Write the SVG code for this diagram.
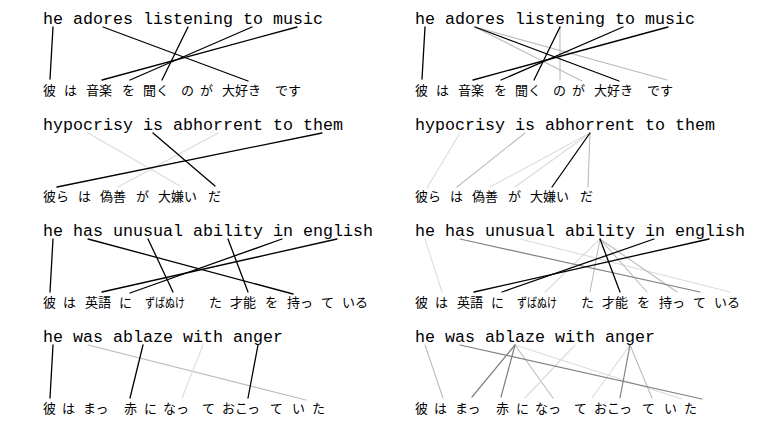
<svg xmlns="http://www.w3.org/2000/svg" width="761" height="432" viewBox="0 0 761 432">
<style>
.en{font-family:"Liberation Mono","Courier New",monospace;font-size:16.67px;fill:#000}
.ja{font-family:"Noto Sans CJK JP","Noto Sans CJK SC",sans-serif;font-size:13px;fill:#000}
.c line{fill:none;stroke-linecap:round}
.k{stroke:#000;stroke-width:1.3}
.g1{stroke:#808080;stroke-width:1.2}
.g2{stroke:#bcbcbc;stroke-width:1.1}
.g3{stroke:#dcdcdc;stroke-width:1.1}
</style>
<rect width="761" height="432" fill="#fff"/>

<g id="connectors" class="c">
<!-- left row 1 -->
<line class="k" x1="53" y1="27" x2="50" y2="79"/>
<line class="k" x1="103" y1="27" x2="248" y2="81"/>
<line class="k" x1="188" y1="27" x2="162" y2="80"/>
<line class="k" x1="252" y1="27" x2="130" y2="80"/>
<line class="k" x1="297" y1="27" x2="102" y2="80"/>
<!-- right row 1 -->
<line class="g2" x1="475" y1="27" x2="582" y2="81"/>
<line class="g2" x1="475" y1="27" x2="667" y2="80"/>
<line class="g2" x1="560" y1="27" x2="560" y2="80"/>
<line class="k" x1="425" y1="27" x2="422" y2="79"/>
<line class="k" x1="475" y1="27" x2="619" y2="81"/>
<line class="k" x1="560" y1="27" x2="534" y2="80"/>
<line class="k" x1="623" y1="27" x2="501" y2="80"/>
<line class="k" x1="668" y1="27" x2="473" y2="80"/>
<!-- left row 2 -->
<line class="g3" x1="88" y1="133" x2="180" y2="186"/>
<line class="g3" x1="218" y1="133" x2="118" y2="187"/>
<line class="k" x1="153" y1="133" x2="215" y2="186"/>
<line class="k" x1="322" y1="133" x2="57" y2="187"/>
<!-- right row 2 -->
<line class="g3" x1="460" y1="133" x2="427" y2="188"/>
<line class="g2" x1="525" y1="133" x2="457" y2="187"/>
<line class="g3" x1="590" y1="133" x2="490" y2="187"/>
<line class="g3" x1="590" y1="133" x2="515" y2="187"/>
<line class="g2" x1="590" y1="133" x2="588" y2="187"/>
<line class="k" x1="590" y1="133" x2="552" y2="187"/>
<!-- left row 3 -->
<line class="k" x1="53" y1="239" x2="50" y2="292"/>
<line class="k" x1="88" y1="239" x2="293" y2="294"/>
<line class="k" x1="148" y1="239" x2="173" y2="292"/>
<line class="k" x1="228" y1="239" x2="248" y2="292"/>
<line class="k" x1="282" y1="239" x2="130" y2="293"/>
<line class="k" x1="337" y1="239" x2="102" y2="292"/>
<!-- right row 3 -->
<line class="g3" x1="425" y1="239" x2="442" y2="292"/>
<line class="g3" x1="520" y1="239" x2="730" y2="292"/>
<line class="g3" x1="600" y1="239" x2="545" y2="292"/>
<line class="g2" x1="600" y1="239" x2="590" y2="292"/>
<line class="g2" x1="600" y1="239" x2="647" y2="292"/>
<line class="g2" x1="600" y1="239" x2="677" y2="292"/>
<line class="g1" x1="460" y1="239" x2="700" y2="292"/>
<line class="k" x1="600" y1="239" x2="620" y2="292"/>
<line class="k" x1="654" y1="239" x2="502" y2="292"/>
<line class="k" x1="709" y1="239" x2="474" y2="292"/>
<!-- left row 4 -->
<line class="g2" x1="88" y1="345" x2="306" y2="400"/>
<line class="g3" x1="203" y1="345" x2="182" y2="398"/>
<line class="k" x1="53" y1="345" x2="50" y2="398"/>
<line class="k" x1="143" y1="345" x2="130" y2="398"/>
<line class="k" x1="258" y1="345" x2="248" y2="398"/>
<!-- right row 4 -->
<line class="g2" x1="425" y1="345" x2="443" y2="398"/>
<line class="g3" x1="515" y1="345" x2="682" y2="399"/>
<line class="g2" x1="515" y1="345" x2="553" y2="398"/>
<line class="g3" x1="575" y1="345" x2="525" y2="398"/>
<line class="g3" x1="630" y1="345" x2="592" y2="398"/>
<line class="g2" x1="630" y1="345" x2="652" y2="398"/>
<line class="g1" x1="460" y1="345" x2="702" y2="399"/>
<line class="g1" x1="515" y1="345" x2="472" y2="397"/>
<line class="g1" x1="515" y1="345" x2="501" y2="397"/>
<line class="g1" x1="630" y1="345" x2="620" y2="398"/>
</g>

<!-- LEFT PANEL -->
<g id="L1-en" class="en">
<g id="L1e-he"><text x="43" y="24">he</text></g>
<g id="L1e-adores"><text x="73" y="24">adores</text></g>
<g id="L1e-listening"><text x="143" y="24">listening</text></g>
<g id="L1e-to"><text x="243" y="24">to</text></g>
<g id="L1e-music"><text x="273" y="24">music</text></g>
</g>
<g id="L1-ja" class="ja">
<g id="L1j-1"><text x="43" y="94.5">彼</text></g>
<g id="L1j-2"><text x="64" y="94.5">は</text></g>
<g id="L1j-3"><text x="86" y="94.5">音楽</text></g>
<g id="L1j-4"><text x="122" y="94.5">を</text></g>
<g id="L1j-5"><text x="143" y="94.5">聞く</text></g>
<g id="L1j-6"><text x="181" y="94.5">の</text></g>
<g id="L1j-7"><text x="200" y="94.5">が</text></g>
<g id="L1j-8"><text x="222" y="94.5">大好き</text></g>
<g id="L1j-9"><text x="275" y="94.5">です</text></g>
</g>

<g id="L2-en" class="en">
<g id="L2e-hypocrisy"><text x="43" y="130">hypocrisy</text></g>
<g id="L2e-is"><text x="143" y="130">is</text></g>
<g id="L2e-abhorrent"><text x="173" y="130">abhorrent</text></g>
<g id="L2e-to"><text x="273" y="130">to</text></g>
<g id="L2e-them"><text x="303" y="130">them</text></g>
</g>
<g id="L2-ja" class="ja">
<g id="L2j-1"><text x="43" y="200.5">彼ら</text></g>
<g id="L2j-2"><text x="78" y="200.5">は</text></g>
<g id="L2j-3"><text x="100" y="200.5">偽善</text></g>
<g id="L2j-4"><text x="136" y="200.5">が</text></g>
<g id="L2j-5"><text x="158" y="200.5">大嫌い</text></g>
<g id="L2j-6"><text x="208" y="200.5">だ</text></g>
</g>

<g id="L3-en" class="en">
<g id="L3e-he"><text x="43" y="236">he</text></g>
<g id="L3e-has"><text x="73" y="236">has</text></g>
<g id="L3e-unusual"><text x="113" y="236">unusual</text></g>
<g id="L3e-ability"><text x="193" y="236">ability</text></g>
<g id="L3e-in"><text x="273" y="236">in</text></g>
<g id="L3e-english"><text x="303" y="236">english</text></g>
</g>
<g id="L3-ja" class="ja">
<g id="L3j-1"><text x="43" y="306.5">彼</text></g>
<g id="L3j-2"><text x="63" y="306.5">は</text></g>
<g id="L3j-3"><text x="85" y="306.5">英語</text></g>
<g id="L3j-4"><text x="119" y="306.5">に</text></g>
<g id="L3j-5"><text x="145" y="306.5" textLength="40" lengthAdjust="spacingAndGlyphs">ずばぬけ</text></g>
<g id="L3j-6"><text x="209" y="306.5">た</text></g>
<g id="L3j-7"><text x="230" y="306.5">才能</text></g>
<g id="L3j-8"><text x="265" y="306.5">を</text></g>
<g id="L3j-9"><text x="287" y="306.5">持っ</text></g>
<g id="L3j-10"><text x="321" y="306.5">て</text></g>
<g id="L3j-11"><text x="342" y="306.5">いる</text></g>
</g>

<g id="L4-en" class="en">
<g id="L4e-he"><text x="43" y="342">he</text></g>
<g id="L4e-was"><text x="73" y="342">was</text></g>
<g id="L4e-ablaze"><text x="113" y="342">ablaze</text></g>
<g id="L4e-with"><text x="183" y="342">with</text></g>
<g id="L4e-anger"><text x="233" y="342">anger</text></g>
</g>
<g id="L4-ja" class="ja">
<g id="L4j-1"><text x="43" y="412.5">彼</text></g>
<g id="L4j-2"><text x="62" y="412.5">は</text></g>
<g id="L4j-3"><text x="83" y="412.5">まっ</text></g>
<g id="L4j-4"><text x="124" y="412.5">赤</text></g>
<g id="L4j-5"><text x="144" y="412.5">に</text></g>
<g id="L4j-6"><text x="163" y="412.5">なっ</text></g>
<g id="L4j-7"><text x="202" y="412.5">て</text></g>
<g id="L4j-8"><text x="222" y="412.5">おこっ</text></g>
<g id="L4j-9"><text x="270" y="412.5">て</text></g>
<g id="L4j-10"><text x="292" y="412.5">い</text></g>
<g id="L4j-11"><text x="312" y="412.5">た</text></g>
</g>

<!-- RIGHT PANEL -->
<g id="R1-en" class="en">
<g id="R1e-he"><text x="415" y="24">he</text></g>
<g id="R1e-adores"><text x="445" y="24">adores</text></g>
<g id="R1e-listening"><text x="515" y="24">listening</text></g>
<g id="R1e-to"><text x="615" y="24">to</text></g>
<g id="R1e-music"><text x="645" y="24">music</text></g>
</g>
<g id="R1-ja" class="ja">
<g id="R1j-1"><text x="415" y="94.5">彼</text></g>
<g id="R1j-2"><text x="436" y="94.5">は</text></g>
<g id="R1j-3"><text x="458" y="94.5">音楽</text></g>
<g id="R1j-4"><text x="494" y="94.5">を</text></g>
<g id="R1j-5"><text x="515" y="94.5">聞く</text></g>
<g id="R1j-6"><text x="553" y="94.5">の</text></g>
<g id="R1j-7"><text x="572" y="94.5">が</text></g>
<g id="R1j-8"><text x="594" y="94.5">大好き</text></g>
<g id="R1j-9"><text x="647" y="94.5">です</text></g>
</g>

<g id="R2-en" class="en">
<g id="R2e-hypocrisy"><text x="415" y="130">hypocrisy</text></g>
<g id="R2e-is"><text x="515" y="130">is</text></g>
<g id="R2e-abhorrent"><text x="545" y="130">abhorrent</text></g>
<g id="R2e-to"><text x="645" y="130">to</text></g>
<g id="R2e-them"><text x="675" y="130">them</text></g>
</g>
<g id="R2-ja" class="ja">
<g id="R2j-1"><text x="415" y="200.5">彼ら</text></g>
<g id="R2j-2"><text x="450" y="200.5">は</text></g>
<g id="R2j-3"><text x="472" y="200.5">偽善</text></g>
<g id="R2j-4"><text x="508" y="200.5">が</text></g>
<g id="R2j-5"><text x="530" y="200.5">大嫌い</text></g>
<g id="R2j-6"><text x="580" y="200.5">だ</text></g>
</g>

<g id="R3-en" class="en">
<g id="R3e-he"><text x="415" y="236">he</text></g>
<g id="R3e-has"><text x="445" y="236">has</text></g>
<g id="R3e-unusual"><text x="485" y="236">unusual</text></g>
<g id="R3e-ability"><text x="565" y="236">ability</text></g>
<g id="R3e-in"><text x="645" y="236">in</text></g>
<g id="R3e-english"><text x="675" y="236">english</text></g>
</g>
<g id="R3-ja" class="ja">
<g id="R3j-1"><text x="415" y="306.5">彼</text></g>
<g id="R3j-2"><text x="435" y="306.5">は</text></g>
<g id="R3j-3"><text x="457" y="306.5">英語</text></g>
<g id="R3j-4"><text x="491" y="306.5">に</text></g>
<g id="R3j-5"><text x="517" y="306.5" textLength="40" lengthAdjust="spacingAndGlyphs">ずばぬけ</text></g>
<g id="R3j-6"><text x="581" y="306.5">た</text></g>
<g id="R3j-7"><text x="602" y="306.5">才能</text></g>
<g id="R3j-8"><text x="637" y="306.5">を</text></g>
<g id="R3j-9"><text x="659" y="306.5">持っ</text></g>
<g id="R3j-10"><text x="693" y="306.5">て</text></g>
<g id="R3j-11"><text x="714" y="306.5">いる</text></g>
</g>

<g id="R4-en" class="en">
<g id="R4e-he"><text x="415" y="342">he</text></g>
<g id="R4e-was"><text x="445" y="342">was</text></g>
<g id="R4e-ablaze"><text x="485" y="342">ablaze</text></g>
<g id="R4e-with"><text x="555" y="342">with</text></g>
<g id="R4e-anger"><text x="605" y="342">anger</text></g>
</g>
<g id="R4-ja" class="ja">
<g id="R4j-1"><text x="415" y="412.5">彼</text></g>
<g id="R4j-2"><text x="434" y="412.5">は</text></g>
<g id="R4j-3"><text x="455" y="412.5">まっ</text></g>
<g id="R4j-4"><text x="496" y="412.5">赤</text></g>
<g id="R4j-5"><text x="516" y="412.5">に</text></g>
<g id="R4j-6"><text x="535" y="412.5">なっ</text></g>
<g id="R4j-7"><text x="574" y="412.5">て</text></g>
<g id="R4j-8"><text x="594" y="412.5">おこっ</text></g>
<g id="R4j-9"><text x="642" y="412.5">て</text></g>
<g id="R4j-10"><text x="664" y="412.5">い</text></g>
<g id="R4j-11"><text x="684" y="412.5">た</text></g>
</g>
</svg>
